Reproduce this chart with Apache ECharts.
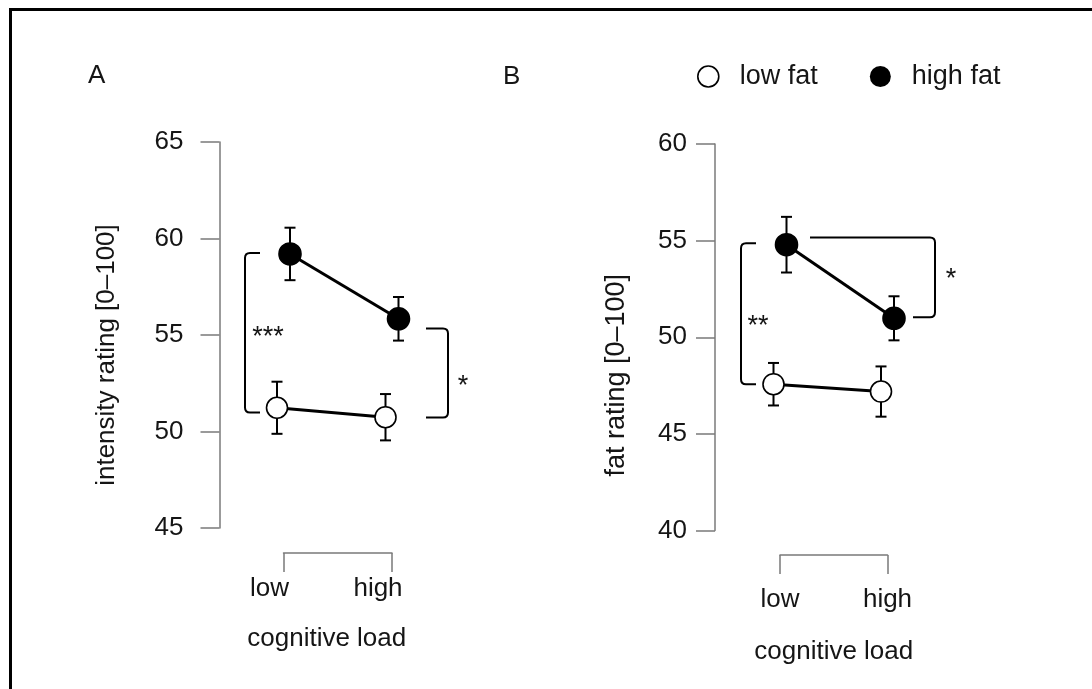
<!DOCTYPE html>
<html><head><meta charset="utf-8">
<script src="https://cdn.jsdelivr.net/npm/echarts@6/dist/echarts.min.js"></script>
<style>html,body{margin:0;padding:0;background:#fff}#c{width:1092px;height:689px}</style>
</head><body><div id="c"></div>
<script>
// ---- data ----
const categories = ['low', 'high'];
const seriesNames = ['low fat', 'high fat'];
const yTicksA = [45, 50, 55, 60, 65];
const yTicksB = [40, 45, 50, 55, 60];
const lowFatA = [51.23, 50.74];
const lowFatErrA = [1.35, 1.2];
const highFatA = [59.2, 55.84];
const highFatErrA = [1.36, 1.13];
const lowFatB = [47.57, 47.19];
const lowFatErrB = [1.1, 1.3];
const highFatB = [54.79, 50.98];
const highFatErrB = [1.44, 1.14];
const bracketTopA = [59.25, 55.34];
const bracketBottomA = [50.98, 50.73];
const bracketLabelA = ['***', '*'];
const bracketTopB = [54.86, 55.16];
const bracketBottomB = [47.57, 51.03];
const bracketLabelB = ['**', '*'];

// ---- styling / geometry (pixel offsets) ----
const FONT = '"Liberation Sans", Arial, Helvetica, sans-serif';
const TXT = '#151515';
const AX = '#7a7a7a';
const dodge = { 'low fat': -6.5, 'high fat': 6.5 };
const bracketGeomA = [
  { cat: 0, vx: -38.5, top: { cat: 0, dx: -23.5 }, bot: { cat: 0, dx: -23.5 }, ldx: 23, ldy: 5 },
  { cat: 1, vx: 56, top: { cat: 1, dx: 34 }, bot: { cat: 1, dx: 34 }, ldx: 15, ldy: 14 }
];
const bracketGeomB = [
  { cat: 0, vx: -39, top: { cat: 0, dx: -24 }, bot: { cat: 0, dx: -24 }, ldx: 17, ldy: 13 },
  { cat: 1, vx: 47.5, top: { cat: 0, dx: 30 }, bot: { cat: 1, dx: 25.5 }, ldx: 16, ldy: 2 }
];

function pointSeries(name, means, errs, axisIdx) {
  const off = dodge[name];
  const filled = name === 'high fat';
  return {
    type: 'custom', name: name, xAxisIndex: axisIdx, yAxisIndex: axisIdx,
    coordinateSystem: 'cartesian2d', clip: false, z: 3,
    data: means.map((v, i) => [i, v, errs[i]]),
    renderItem: function (params, api) {
      const i = params.dataIndex;
      const v = api.value(1), e = api.value(2);
      const p = api.coord([i, v]);
      const x = p[0] + off, y = p[1];
      const yt = api.coord([i, v + e])[1];
      const yb = api.coord([i, v - e])[1];
      const cw = 5.5;
      const ls = { stroke: '#000', lineWidth: 2 };
      const children = [
        { type: 'line', z2: 2, shape: { x1: x, y1: yt, x2: x, y2: yb }, style: ls },
        { type: 'line', z2: 2, shape: { x1: x - cw, y1: yt, x2: x + cw, y2: yt }, style: ls },
        { type: 'line', z2: 2, shape: { x1: x - cw, y1: yb, x2: x + cw, y2: yb }, style: ls },
        { type: 'circle', z2: 5, shape: { cx: x, cy: y, r: filled ? 11 : 10.5 },
          style: { fill: filled ? '#000' : '#fff', stroke: '#000', lineWidth: 1.6 } }
      ];
      if (i < means.length - 1) {
        const q = api.coord([i + 1, means[i + 1]]);
        children.push({ type: 'line', z2: 1, shape: { x1: x, y1: y, x2: q[0] + off, y2: q[1] },
          style: { stroke: '#000', lineWidth: 3 } });
      }
      return { type: 'group', children: children };
    }
  };
}

function bracketSeries(tops, bots, labels, geom, axisIdx) {
  return {
    type: 'custom', name: 'brackets' + axisIdx, xAxisIndex: axisIdx, yAxisIndex: axisIdx,
    coordinateSystem: 'cartesian2d', clip: false, z: 2, silent: true,
    data: tops.map((t, i) => [i, t, bots[i]]),
    renderItem: function (params, api) {
      const i = params.dataIndex, g = geom[i];
      const t = api.value(1), b = api.value(2);
      const vx = api.coord([g.cat, t])[0] + g.vx;
      const yT = api.coord([g.cat, t])[1];
      const yB = api.coord([g.cat, b])[1];
      const xT = api.coord([g.top.cat, t])[0] + g.top.dx;
      const xB = api.coord([g.bot.cat, b])[0] + g.bot.dx;
      const r = 5;
      const sT = Math.sign(xT - vx), sB = Math.sign(xB - vx);
      const d = 'M' + xT + ' ' + yT + ' L' + (vx + sT * r) + ' ' + yT +
        ' Q' + vx + ' ' + yT + ' ' + vx + ' ' + (yT + r) +
        ' L' + vx + ' ' + (yB - r) +
        ' Q' + vx + ' ' + yB + ' ' + (vx + sB * r) + ' ' + yB +
        ' L' + xB + ' ' + yB;
      return {
        type: 'group', children: [
          { type: 'path', shape: { pathData: d }, style: { stroke: '#000', lineWidth: 2, fill: null } },
          { type: 'text', x: vx + g.ldx, y: (yT + yB) / 2 + g.ldy,
            style: { text: labels[i], fill: TXT, fontSize: 27, fontFamily: FONT,
              align: 'center', verticalAlign: 'middle', textAlign: 'center', textVerticalAlign: 'middle' } }
        ]
      };
    }
  };
}

function xAxisCfg(idx, off, margin, labPad, nameGap, namePad) {
  return {
    type: 'category', gridIndex: idx, data: categories, boundaryGap: false,
    position: 'bottom', offset: off,
    axisLine: { show: true, lineStyle: { color: AX, width: 1.5 } },
    axisTick: { show: true, length: 19, lineStyle: { color: AX, width: 1.5 } },
    axisLabel: { fontSize: 26, color: TXT, fontFamily: FONT, margin: margin, padding: labPad },
    splitLine: { show: false },
    name: 'cognitive load', nameLocation: 'middle', nameGap: nameGap,
    nameTextStyle: { fontSize: 26, color: TXT, fontFamily: FONT, padding: namePad }
  };
}
function yAxisCfg(idx, ticks, off, margin, name, nameGap, namePad, nameSize) {
  return {
    type: 'value', gridIndex: idx, min: ticks[0], max: ticks[ticks.length - 1],
    interval: ticks[1] - ticks[0], position: 'left', offset: off,
    axisLine: { show: true, lineStyle: { color: AX, width: 1.5 } },
    axisTick: { show: true, length: 19, lineStyle: { color: AX, width: 1.5 } },
    axisLabel: { fontSize: 26, color: TXT, fontFamily: FONT, margin: margin },
    splitLine: { show: false },
    name: name, nameLocation: 'middle', nameGap: nameGap, nameRotate: 90,
    nameTextStyle: { fontSize: nameSize, color: TXT, fontFamily: FONT, padding: namePad }
  };
}

const chart = echarts.init(document.getElementById('c'), null, { renderer: 'canvas' });
chart.setOption({
  backgroundColor: '#fff',
  animation: false,
  textStyle: { fontFamily: FONT },
  title: [
    { text: 'A', left: 88, top: 63, padding: 0, textStyle: { fontSize: 26, fontWeight: 'normal', color: TXT, fontFamily: FONT } },
    { text: 'B', left: 503, top: 64, padding: 0, textStyle: { fontSize: 26, fontWeight: 'normal', color: TXT, fontFamily: FONT } }
  ],
  legend: {
    left: 697, top: 63, padding: 0, itemWidth: 21, itemHeight: 21, itemGap: 52,
    textStyle: { fontSize: 27, color: TXT, fontFamily: FONT, padding: [0, 0, 0, 16] },
    data: [
      { name: seriesNames[0], icon: 'circle', itemStyle: { color: '#fff', borderColor: '#000', borderWidth: 1.6 } },
      { name: seriesNames[1], icon: 'circle', itemStyle: { color: '#000', borderColor: '#000', borderWidth: 0 } }
    ]
  },
  grid: [
    { left: 283.5, top: 142, width: 108.5, height: 386, containLabel: false, outerBoundsMode: 'none' },
    { left: 780, top: 144, width: 107.5, height: 386.5, containLabel: false, outerBoundsMode: 'none' }
  ],
  xAxis: [
    xAxisCfg(0, 25, 23, [0, 28, 0, 0], 73, [0, 22, 0, 0]),
    xAxisCfg(1, 24.5, 32, [0, 0, 0, 0], 84, [0, 0, 0, 0])
  ],
  yAxis: [
    yAxisCfg(0, yTicksA, 64, 36, 'intensity rating [0–100]', 100, [0, 40, 0, 0], 26),
    yAxisCfg(1, yTicksB, 65, 28, 'fat rating [0–100]', 85, [0, 76, 0, 0], 27)
  ],
  graphic: [
    { type: 'rect', shape: { x: 9, y: 8, width: 1083, height: 3 }, style: { fill: '#000' } },
    { type: 'rect', shape: { x: 9, y: 8, width: 3, height: 681 }, style: { fill: '#000' } }
  ],
  series: [
    bracketSeries(bracketTopA, bracketBottomA, bracketLabelA, bracketGeomA, 0),
    bracketSeries(bracketTopB, bracketBottomB, bracketLabelB, bracketGeomB, 1),
    pointSeries(seriesNames[0], lowFatA, lowFatErrA, 0),
    pointSeries(seriesNames[1], highFatA, highFatErrA, 0),
    pointSeries(seriesNames[0], lowFatB, lowFatErrB, 1),
    pointSeries(seriesNames[1], highFatB, highFatErrB, 1)
  ]
});
</script></body></html>
